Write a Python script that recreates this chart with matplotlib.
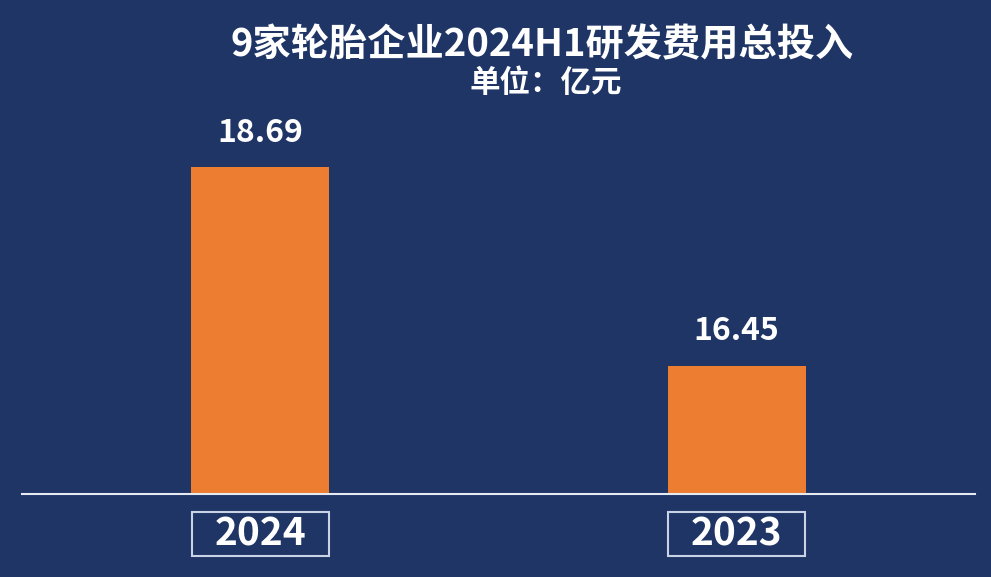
import matplotlib
matplotlib.use("Agg")
import matplotlib.pyplot as plt
from matplotlib.patches import Rectangle
import matplotlib.transforms as mtransforms

plt.rcParams['font.family'] = ['Noto Sans CJK SC', 'DejaVu Sans']

# data
years = ["2024", "2023"]
spend = [18.69, 16.45]  # 亿元

title = "9家轮胎企业2024H1研发费用总投入"
subtitle = "单位：亿元"

bg = "#1f3566"
bar_color = "#ed7d31"

fig = plt.figure(figsize=(9.91, 5.77), dpi=100, facecolor=bg)
ax = fig.add_axes([22 / 991, 83 / 577, 953 / 991, 443 / 577])
ax.set_facecolor(bg)

x = list(range(len(years)))
bar_w = 0.29
ax.bar(x, spend, width=bar_w, color=bar_color, zorder=2)

for xi, v in zip(x, spend):
    ax.annotate(f"{v:.2f}", (xi, v), xytext=(0, 13), textcoords="offset points",
                ha="center", va="bottom", color="white", fontsize=23, fontweight="bold")

ax.set_xlim(-0.5, 1.5)
ax.set_ylim(15, 20)
for s in ["top", "right", "left"]:
    ax.spines[s].set_visible(False)
ax.spines["bottom"].set_color("#e6ebf3")
ax.spines["bottom"].set_linewidth(1.5)
ax.set_yticks([])
ax.set_xticks([])

# boxed category labels below the axis line
trans = mtransforms.blended_transform_factory(ax.transData, ax.transAxes)
box_w = 137 / 477
box_h = 44 / 443
box_top = -18 / 443
for xi, lab in zip(x, years):
    ax.add_patch(Rectangle((xi - box_w / 2, box_top - box_h), box_w, box_h,
                           transform=trans, clip_on=False, fill=False,
                           edgecolor="#c9d3e6", linewidth=1.5))
    ax.text(xi, box_top - box_h / 2, lab, transform=trans, ha="center", va="center",
            color="white", fontsize=28, fontweight="bold")

fig.text(542 / 991, 1 - 45 / 577, title, ha="center", va="center",
         color="white", fontsize=27.5, fontweight="bold")
fig.text(546 / 991, 1 - 83 / 577, subtitle, ha="center", va="center",
         color="white", fontsize=22, fontweight="bold")

fig.savefig("out.png", dpi=100, facecolor=bg)
